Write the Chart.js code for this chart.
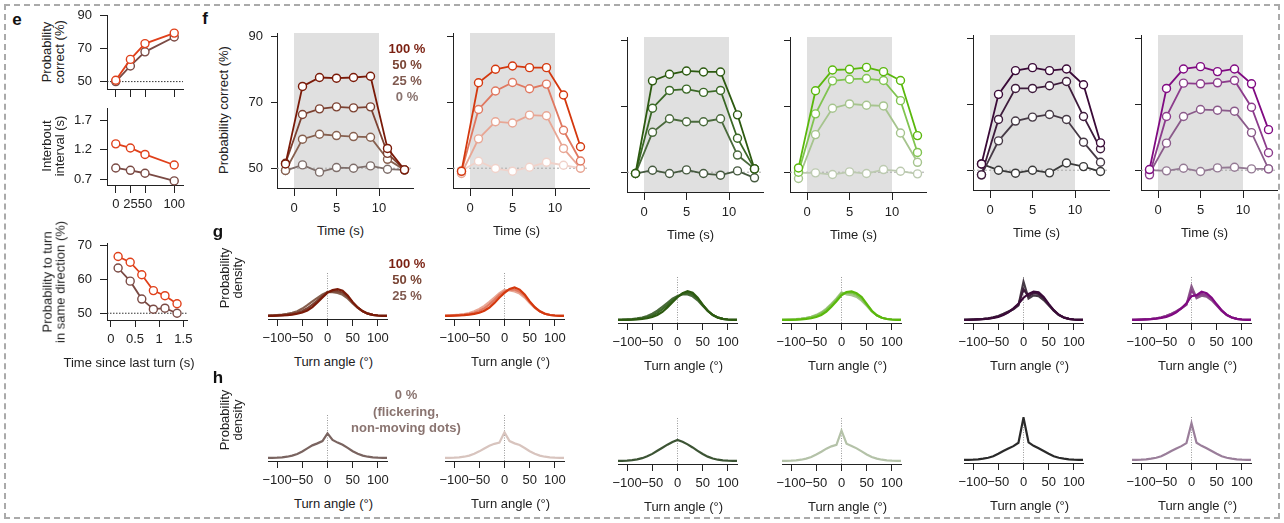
<!DOCTYPE html>
<html>
<head>
<meta charset="utf-8">
<script src="https://cdn.jsdelivr.net/npm/chart.js@4.4.1/dist/chart.umd.min.js"></script>
<style>
  html, body { margin: 0; padding: 0; background: #fff; width: 1284px; height: 523px; overflow: hidden;
    font-family: "Liberation Sans", Arial, sans-serif; position: relative; }
  #frame { position: absolute; left: 4px; top: 4px; width: 1276px; height: 515px; box-sizing: border-box;
    border: 2px dashed #aaa; }
  .lbl { position: absolute; white-space: nowrap; transform: translate(-50%, -50%); font-size: 13px;
    color: #222; line-height: 13.4px; text-align: center; }
  .rot { transform: translate(-50%, -50%) rotate(-90deg); }
  .panel { position: absolute; font-weight: bold; font-size: 17px; color: #111; transform: translate(-50%, -50%); }
  .leg { position: absolute; font-weight: bold; font-size: 13px; white-space: nowrap; transform: translate(-50%, -50%);
    text-align: center; }
</style>
</head>
<body>
<div id="frame"></div>
<script>
// ---- panel e ----
const coherence = [0, 25, 50, 100];
const eCorrectRed = [50.8, 63.5, 73.1, 79.5];
const eCorrectBrown = [50, 59.5, 68.1, 77.1];
const eIntervalRed = [1.3, 1.23, 1.12, 0.94];
const eIntervalBrown = [0.89, 0.85, 0.8, 0.67];
const sinceTurn = [0.15, 0.4, 0.64, 0.88, 1.12, 1.37];
const eSameRed = [66.8, 65.1, 61.4, 56.7, 55.2, 52.8];
const eSameBrown = [63.4, 59.5, 54.2, 51.2, 51.5, 50];

// ---- panel f (rows: 100 %, 50 %, 25 %, 0 %) ----
const fTime = [-1, 1, 3, 5, 7, 9, 11, 13];
const levels = ['100 %', '50 %', '25 %', '0 %'];
const fBrown = [
  [51.3, 74.8, 77.5, 77.3, 77.5, 77.9, 56, 49.5],
  [51.5, 66.3, 68, 68.6, 68.3, 68.6, 54.5, 49.5],
  [49.3, 58.8, 60.3, 59.9, 59.6, 59.4, 52.7, 49.5],
  [49.3, 51, 48.8, 50.2, 50, 50.7, 49.7, 49.5]
];
const fRed = [
  [49.1, 75.9, 80, 81, 80.5, 80.5, 72.2, 56.5],
  [49, 67.8, 73.4, 76, 74.1, 75.5, 61.5, 52.2],
  [48.4, 58.9, 64.1, 63.7, 66.1, 65.9, 56, 50],
  [49.3, 52.1, 49.9, 49.1, 50.3, 51.8, 50.9, 50]
];
const fDarkGreen = [
  [49.6, 77.7, 79.7, 80.7, 80.4, 80.4, 67.4, 51],
  [49.6, 69.4, 74.8, 75.2, 74.2, 74.8, 60.3, 51],
  [49.6, 62.1, 66.2, 65.3, 65.3, 66.2, 55.2, 51],
  [49.6, 50.6, 49.6, 50.7, 49.6, 49.1, 50.4, 48.3]
];
const fLightGreen = [
  [51.3, 74.7, 81, 81.2, 81.8, 80.5, 77.8, 61.1],
  [50, 67.7, 77.7, 78.2, 78.4, 77.8, 71.7, 56],
  [48.1, 61.4, 69.4, 70.7, 70.3, 70.1, 61.9, 53],
  [49.8, 49.8, 49.3, 50.1, 49.6, 50.8, 50.3, 49.5]
];
const fDarkPurple = [
  [51.9, 73, 80.2, 81.1, 80.2, 80.7, 75.9, 58.3],
  [48.6, 65.4, 74.8, 74.8, 75.6, 76.9, 66.3, 56.5],
  [48.6, 58.9, 64.9, 66.1, 66.9, 65.4, 58.5, 52.4],
  [51.9, 50, 49.1, 50, 49.2, 52.2, 51.1, 49.6]
];
const fPurple = [
  [50.2, 74.8, 80.7, 81.4, 79.9, 80.7, 76.2, 62.3],
  [48.6, 66.3, 76.4, 76.2, 76.5, 77.2, 69.1, 55.3],
  [49, 58.2, 66.3, 68.4, 68.2, 67.9, 61.4, 50.4],
  [50, 49.8, 50.6, 49.6, 50.7, 50.9, 50.4, 50.4]
];

// ---- panel g (rows: 100 %, 50 %, 25 %), density in % per degree ----
const angles = [-120, -110, -100, -90, -80, -70, -60, -50, -40, -30, -20, -10, 0,
  10, 20, 30, 40, 50, 60, 70, 80, 90, 100, 110, 120];
const gBrown = [
  [0, 0.01, 0.02, 0.03, 0.05, 0.09, 0.14, 0.22, 0.36, 0.58, 0.88, 1.2, 1.52, 1.68, 1.74, 1.64, 1.34, 0.9, 0.55, 0.3, 0.15, 0.07, 0.03, 0.01, 0],
  [0.01, 0.02, 0.03, 0.05, 0.08, 0.13, 0.2, 0.32, 0.5, 0.74, 1.0, 1.3, 1.55, 1.6, 1.62, 1.52, 1.26, 0.88, 0.54, 0.3, 0.15, 0.07, 0.03, 0.01, 0],
  [0.02, 0.03, 0.05, 0.08, 0.13, 0.2, 0.31, 0.48, 0.7, 0.95, 1.18, 1.4, 1.56, 1.55, 1.5, 1.38, 1.14, 0.82, 0.52, 0.3, 0.15, 0.07, 0.03, 0.01, 0]
];
const gRed = [
  [0, 0.01, 0.02, 0.03, 0.05, 0.08, 0.13, 0.21, 0.34, 0.55, 0.85, 1.2, 1.5, 1.76, 1.86, 1.72, 1.4, 0.95, 0.57, 0.3, 0.14, 0.06, 0.03, 0.01, 0],
  [0.01, 0.02, 0.03, 0.05, 0.08, 0.13, 0.2, 0.32, 0.5, 0.75, 1.05, 1.38, 1.6, 1.72, 1.72, 1.58, 1.3, 0.9, 0.55, 0.3, 0.14, 0.06, 0.03, 0.01, 0],
  [0.02, 0.03, 0.05, 0.08, 0.12, 0.19, 0.3, 0.45, 0.66, 0.92, 1.2, 1.48, 1.7, 1.66, 1.6, 1.46, 1.2, 0.85, 0.53, 0.3, 0.15, 0.07, 0.03, 0.01, 0]
];
const gDarkGreen = [
  [0, 0.01, 0.01, 0.02, 0.04, 0.07, 0.11, 0.19, 0.32, 0.52, 0.82, 1.15, 1.48, 1.75, 1.88, 1.78, 1.45, 1.0, 0.6, 0.32, 0.15, 0.07, 0.03, 0.01, 0],
  [0.01, 0.01, 0.02, 0.04, 0.07, 0.11, 0.18, 0.29, 0.46, 0.7, 0.98, 1.28, 1.52, 1.7, 1.76, 1.66, 1.38, 0.97, 0.6, 0.33, 0.16, 0.07, 0.03, 0.01, 0],
  [0.01, 0.02, 0.04, 0.06, 0.1, 0.16, 0.26, 0.4, 0.6, 0.86, 1.12, 1.38, 1.56, 1.66, 1.66, 1.54, 1.28, 0.92, 0.58, 0.32, 0.16, 0.07, 0.03, 0.01, 0]
];
const gLightGreen = [
  [0, 0.01, 0.01, 0.02, 0.04, 0.07, 0.11, 0.19, 0.32, 0.54, 0.86, 1.22, 1.6, 1.82, 1.86, 1.74, 1.5, 1.05, 0.6, 0.3, 0.14, 0.06, 0.03, 0.01, 0],
  [0.01, 0.01, 0.02, 0.04, 0.07, 0.11, 0.18, 0.28, 0.44, 0.66, 0.98, 1.32, 1.72, 1.78, 1.76, 1.62, 1.38, 0.98, 0.58, 0.3, 0.14, 0.06, 0.03, 0.01, 0],
  [0.01, 0.02, 0.03, 0.05, 0.08, 0.13, 0.21, 0.33, 0.5, 0.74, 1.06, 1.4, 1.8, 1.66, 1.62, 1.5, 1.26, 0.92, 0.56, 0.3, 0.14, 0.06, 0.03, 0.01, 0]
];
const gDarkPurple = [
  [0, 0.01, 0.02, 0.03, 0.05, 0.08, 0.13, 0.2, 0.32, 0.5, 0.75, 1.05, 1.45, 1.7, 1.84, 1.8, 1.5, 1.05, 0.64, 0.34, 0.16, 0.07, 0.03, 0.01, 0],
  [0.01, 0.01, 0.02, 0.04, 0.06, 0.09, 0.15, 0.24, 0.36, 0.52, 0.72, 1.0, 2.0, 1.55, 1.75, 1.7, 1.42, 1.0, 0.62, 0.33, 0.16, 0.07, 0.03, 0.01, 0],
  [0.01, 0.02, 0.03, 0.05, 0.07, 0.11, 0.17, 0.26, 0.4, 0.55, 0.7, 0.95, 2.5, 1.4, 1.6, 1.55, 1.3, 0.95, 0.6, 0.32, 0.16, 0.07, 0.03, 0.01, 0]
];
const gPurple = [
  [0, 0.01, 0.02, 0.03, 0.05, 0.08, 0.13, 0.2, 0.32, 0.5, 0.76, 1.08, 1.55, 1.62, 1.84, 1.74, 1.45, 1.02, 0.62, 0.33, 0.16, 0.07, 0.03, 0.01, 0],
  [0.01, 0.01, 0.02, 0.04, 0.06, 0.1, 0.16, 0.25, 0.38, 0.55, 0.76, 1.02, 1.9, 1.5, 1.7, 1.62, 1.36, 0.98, 0.6, 0.32, 0.16, 0.07, 0.03, 0.01, 0],
  [0.01, 0.02, 0.03, 0.05, 0.07, 0.11, 0.17, 0.27, 0.4, 0.57, 0.76, 0.98, 2.2, 1.42, 1.58, 1.52, 1.28, 0.94, 0.58, 0.32, 0.16, 0.07, 0.03, 0.01, 0]
];

// ---- panel h (0 %, flickering dots) ----
const hBrownGrey = [0, 0.01, 0.02, 0.04, 0.08, 0.15, 0.26, 0.42, 0.62, 0.82, 0.95, 1.1, 1.6, 1.18, 1.0, 0.86, 0.66, 0.44, 0.27, 0.15, 0.08, 0.04, 0.02, 0.01, 0];
const hPaleRed = [0, 0.01, 0.02, 0.04, 0.08, 0.15, 0.27, 0.43, 0.62, 0.8, 0.92, 1.0, 1.67, 1.1, 0.95, 0.84, 0.65, 0.44, 0.27, 0.15, 0.08, 0.04, 0.02, 0.01, 0];
const hGreenGrey = [0, 0.01, 0.02, 0.05, 0.1, 0.18, 0.3, 0.46, 0.66, 0.86, 1.06, 1.24, 1.37, 1.25, 1.08, 0.88, 0.66, 0.45, 0.28, 0.16, 0.08, 0.04, 0.02, 0.01, 0];
const hPaleGreen = [0, 0.01, 0.02, 0.04, 0.08, 0.15, 0.26, 0.42, 0.6, 0.8, 0.95, 1.05, 1.97, 1.12, 0.98, 0.82, 0.62, 0.42, 0.26, 0.15, 0.08, 0.04, 0.02, 0.01, 0];
const hBlack = [0, 0.01, 0.02, 0.04, 0.08, 0.14, 0.24, 0.4, 0.58, 0.74, 0.9, 1.12, 2.76, 1.15, 0.92, 0.76, 0.58, 0.4, 0.24, 0.14, 0.08, 0.04, 0.02, 0.01, 0];
const hMauve = [0, 0.01, 0.02, 0.04, 0.08, 0.14, 0.24, 0.4, 0.58, 0.74, 0.9, 1.1, 2.4, 1.12, 0.92, 0.76, 0.58, 0.4, 0.24, 0.14, 0.08, 0.04, 0.02, 0.01, 0];

// colours
const eRed = '#e0401a', eBrown = '#7a4a44';
const brownShades = ['#7a1a08', '#7c4232', '#86604f', '#7e6e6a'];
const redShades = ['#d4380e', '#e07860', '#e8a694', '#f0d2ca'];
const darkGreenShades = ['#2c5a10', '#3a6826', '#4a6a3c', '#465a40'];
const lightGreenShades = ['#5ab80c', '#80c450', '#a6c48e', '#bccab0'];
const darkPurpleShades = ['#3a0a38', '#3e1c3c', '#463a46', '#3a3a3a'];
const purpleShades = ['#800a82', '#8c3c8c', '#8a5a8a', '#947a94'];
const legendText = ['#7a1f10', '#7a4535', '#805a50', '#8a7470'];

Chart.defaults.font.family = '"Liberation Sans", Arial, sans-serif';
Chart.defaults.font.size = 13;
Chart.defaults.color = '#222';

// grey box for the stimulus period
Chart.register({
  id: 'stimShade',
  beforeDatasetsDraw(chart, args, opts) {
    const x = chart.scales.x, a = chart.chartArea, ctx = chart.ctx;
    const x0 = x.getPixelForValue(opts.from), x1 = x.getPixelForValue(opts.to);
    ctx.save();
    ctx.fillStyle = '#e0e0e0';
    ctx.fillRect(x0, a.top, x1 - x0, a.bottom - a.top);
    ctx.restore();
  }
});

const fmt = v => (v < 0 ? '\u2212' + Math.abs(v) : String(v));

function series(xs, ys, color, marker) {
  const ds = {
    data: xs.map((x, i) => ({ x: x, y: ys[i] })),
    borderColor: color,
    borderWidth: marker ? 1.8 : 2.2,
    pointRadius: marker ? 4 : 0,
    pointBackgroundColor: '#fff',
    pointBorderColor: color,
    pointBorderWidth: 1.4,
    tension: 0
  };
  if (marker) ds.clip = false;
  return ds;
}

function refLine(xs, ys, color, dash) {
  return {
    data: xs.map((x, i) => ({ x: x, y: ys[i] })),
    borderColor: color, borderWidth: 1, borderDash: dash, pointRadius: 0, clip: false
  };
}

function addChart(c) {
  const yW = 40, padT = 12, padR = 12, xH = 34;
  const W = yW + c.w + padR, H = padT + c.h + xH;
  const cv = document.createElement('canvas');
  cv.width = W; cv.height = H;
  cv.style.cssText = 'position:absolute;left:' + (c.left - yW) + 'px;top:' + (c.top - padT) +
    'px;width:' + W + 'px;height:' + H + 'px';
  document.body.appendChild(cv);
  const fix = vals => s => { s.ticks = vals.map(v => ({ value: v })); };
  new Chart(cv.getContext('2d'), {
    type: 'line',
    data: { datasets: c.datasets },
    options: {
      responsive: false,
      animation: false,
      events: [],
      layout: { padding: { top: padT, right: padR, left: 0, bottom: 0 } },
      plugins: { legend: { display: false }, tooltip: { enabled: false }, stimShade: c.shade || false },
      scales: {
        x: {
          type: 'linear', min: c.x.min, max: c.x.max,
          afterBuildTicks: fix(c.x.ticks),
          afterFit: s => { s.height = xH; s.paddingLeft = 0; s.paddingRight = 0; },
          border: { display: true, color: '#222', width: 1 },
          grid: { display: true, drawOnChartArea: false, drawTicks: true, tickLength: c.x.tick, color: '#222' },
          ticks: { display: c.x.labels, autoSkip: false, maxRotation: 0, minRotation: 0,
            padding: c.x.pad, callback: fmt, color: '#222' }
        },
        y: {
          type: 'linear', min: c.y.min, max: c.y.max,
          afterBuildTicks: fix(c.y.ticks),
          afterFit: s => { s.width = yW; s.paddingTop = 0; s.paddingBottom = 0; },
          border: { display: c.y.show, color: '#222', width: 1 },
          grid: { display: c.y.show, drawOnChartArea: false, drawTicks: true, tickLength: c.y.tick || 6, color: '#222' },
          ticks: { display: c.y.labels, padding: c.y.pad || 8, callback: fmt, color: '#222' }
        }
      }
    }
  });
}

function label(html, x, y, cls, style) {
  const d = document.createElement('div');
  d.className = cls;
  d.innerHTML = html;
  d.style.left = x + 'px';
  d.style.top = y + 'px';
  if (style) Object.assign(d.style, style);
  document.body.appendChild(d);
}

// ---- e ----
const eX = { min: -15, max: 115, ticks: coherence, tick: 8 };
addChart({
  left: 107, top: 15, w: 76, h: 74,
  x: Object.assign({}, eX, { labels: false, pad: 4 }),
  y: { min: 45.5, max: 90.5, ticks: [50, 70, 90], show: true, labels: true, tick: 7, pad: 8 },
  datasets: [
    series(coherence, eCorrectRed, eRed, true),
    series(coherence, eCorrectBrown, eBrown, true),
    refLine([-15, 115], [50, 50], '#333', [1.5, 1.5])
  ]
});
addChart({
  left: 107, top: 108, w: 76, h: 77,
  x: Object.assign({}, eX, { labels: true, pad: 4 }),
  y: { min: 0.6, max: 1.91, ticks: [0.7, 1.2, 1.7], show: true, labels: true, tick: 7, pad: 8 },
  datasets: [
    series(coherence, eIntervalRed, eRed, true),
    series(coherence, eIntervalBrown, eBrown, true)
  ]
});
addChart({
  left: 107, top: 243, w: 80, h: 77,
  x: { min: -0.08, max: 1.576, ticks: [0, 0.5, 1, 1.5], tick: 7, labels: true, pad: 5 },
  y: { min: 48, max: 70.8, ticks: [50, 60, 70], show: true, labels: true, tick: 7, pad: 8 },
  datasets: [
    series(sinceTurn, eSameRed, eRed, true),
    series(sinceTurn, eSameBrown, eBrown, true),
    refLine([-0.08, 1.576], [50, 50], '#333', [1.5, 1.5])
  ]
});
label('Probability<br>correct (%)', 52.5, 52, 'lbl rot');
label('Interbout<br>interval (s)', 52.5, 146, 'lbl rot');
label('Probability to turn<br>in same direction (%)', 53.5, 282, 'lbl rot');
label('Time since last turn (s)', 129, 363, 'lbl');

// ---- f ----
const fCols = [
  { series: fBrown, colors: brownShades, left: 277, top: 33 },
  { series: fRed, colors: redShades, left: 453, top: 33 },
  { series: fDarkGreen, colors: darkGreenShades, left: 627, top: 37 },
  { series: fLightGreen, colors: lightGreenShades, left: 790, top: 37 },
  { series: fDarkPurple, colors: darkPurpleShades, left: 973, top: 35 },
  { series: fPurple, colors: purpleShades, left: 1141, top: 35 }
];
fCols.forEach((col, k) => {
  const ds = col.series.map((ys, i) => series(fTime, ys, col.colors[i], true));
  ds.push(refLine([-2, 14], [50, 50], '#aaa', [2, 2]));
  addChart({
    left: col.left, top: col.top, w: 136, h: 155,
    x: { min: -2, max: 14, ticks: [0, 5, 10], tick: 8, labels: true, pad: 5 },
    y: { min: 44, max: 91, ticks: [50, 70, 90], show: true, labels: k === 0, tick: 6, pad: 8 },
    shade: { from: 0, to: 10 },
    datasets: ds
  });
  label('Time (s)', col.left + 63.5, col.top + 155 + 43, 'lbl');
});
label('Probability correct (%)', 224, 110, 'lbl rot');
levels.forEach((t, i) => label(t, 407, 48 + i * 16, 'leg', { color: legendText[i] }));

// ---- g and h ----
const gCols = [
  { g: gBrown, h: hBrownGrey, colors: brownShades, hColor: '#7a6460', zero: 327.5, gAxis: 319, hAxis: 461 },
  { g: gRed, h: hPaleRed, colors: redShades, hColor: '#d8c4be', zero: 504.5, gAxis: 319, hAxis: 461 },
  { g: gDarkGreen, h: hGreenGrey, colors: darkGreenShades, hColor: '#3c5434', zero: 677.5, gAxis: 323, hAxis: 464 },
  { g: gLightGreen, h: hPaleGreen, colors: lightGreenShades, hColor: '#b4c2a8', zero: 841.5, gAxis: 323, hAxis: 464 },
  { g: gDarkPurple, h: hBlack, colors: darkPurpleShades, hColor: '#2a2a2a', zero: 1023.5, gAxis: 323, hAxis: 463 },
  { g: gPurple, h: hMauve, colors: purpleShades, hColor: '#9a7e9a', zero: 1191.5, gAxis: 323, hAxis: 463 }
];
const densX = { min: -118, max: 118, ticks: [-100, -50, 0, 50, 100], tick: 7, labels: true, pad: 5 };
const densY = { min: -0.2, max: 2.8, ticks: [0], show: false, labels: false };
gCols.forEach(col => {
  const left = col.zero - 59.5;
  const gds = col.g.map((ys, i) => series(angles, ys, col.colors[i], false));
  gds.push(refLine([0, 0], [densY.min, densY.max], '#999', [1, 1.5]));
  addChart({ left: left, top: col.gAxis - 46, w: 119, h: 46, x: densX, y: densY, datasets: gds });
  label('Turn angle (\u00b0)', col.zero + 6, col.gAxis + 42.5, 'lbl');

  const hds = [series(angles, col.h, col.hColor, false),
    refLine([0, 0], [densY.min, densY.max], '#999', [1, 1.5])];
  addChart({ left: left, top: col.hAxis - 46, w: 119, h: 46, x: densX, y: densY, datasets: hds });
  label('Turn angle (\u00b0)', col.zero + 6, col.hAxis + 42.5, 'lbl');
});
label('Probability<br>density', 231, 278, 'lbl rot');
label('Probability<br>density', 231, 420, 'lbl rot');
levels.slice(0, 3).forEach((t, i) => label(t, 407, 263 + i * 16, 'leg', { color: legendText[i] }));
label('0 %<br>(flickering,<br>non-moving dots)', 406, 412, 'leg', { color: '#8a7470', lineHeight: '16.6px' });

// panel letters
label('e', 17, 20, 'panel');
label('f', 205, 19, 'panel');
label('g', 218, 232, 'panel');
label('h', 218, 378, 'panel');
</script>
</body>
</html>
